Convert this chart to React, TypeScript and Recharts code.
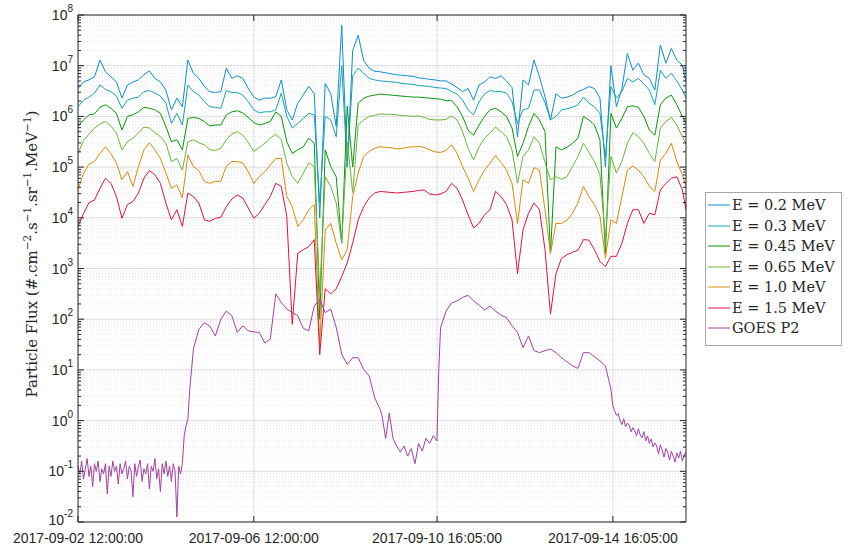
import { LineChart, Line, XAxis, YAxis, CartesianGrid, ReferenceLine, Legend } from "recharts"

// hours since 2017-09-02 12:00
const hours = [
  0, 3, 6, 9, 12, 15, 18, 21, 24, 27, 30, 33, 36, 39, 42, 45, 48, 51, 54, 57,
  60, 63, 66, 69, 72, 75, 78, 81, 84, 87, 90, 93, 96, 99, 102, 105, 108, 111, 114, 117,
  120, 123, 126, 129, 132, 135, 138, 141, 144, 147, 150, 153, 156, 159, 162, 165, 168, 171, 174, 177,
  180, 183, 186, 189, 192, 195, 198, 201, 204, 207, 210, 213, 216, 219, 222, 225, 228, 231, 234, 237,
  240, 243, 246, 249, 252, 255, 258, 261, 264, 267, 270, 273, 276, 279, 282, 285, 288, 291, 294, 297,
  300, 303, 306, 309, 312, 315, 318, 321, 324, 327, 330, 332,
]

const xTickHours = [0, 96, 196.083, 292.083]
const xTickLabels = ["2017-09-02 12:00:00", "2017-09-06 12:00:00", "2017-09-10 16:05:00", "2017-09-14 16:05:00"]

// log10 of the flux
const e02 = [
  6.55, 6.68, 6.72, 6.78, 7.11, 6.88, 6.78, 6.68, 6.36, 6.62, 6.68, 6.72, 6.82, 6.9, 6.75, 6.68, 6.52, 6.13, 6.36, 6.19,
  7.11, 6.85, 6.75, 6.59, 6.49, 6.47, 6.49, 6.95, 6.75,
  6.8, 6.75, 6.55, 6.38, 6.32, 6.36, 6.36, 6.39, 6.72, 6.13, 5.93, 6.26, 6.42, 6.59, 6.45, 4.0, 6.65, 6.45, 5.8, 7.8,
  5.0, 7.3, 7.6, 7.1, 6.95, 6.89, 6.88,
  6.86, 6.84, 6.82, 6.81, 6.8, 6.79, 6.76, 6.75, 6.73, 6.72, 6.7, 6.7, 6.64, 6.57, 6.49, 6.55, 6.32, 6.62, 6.68, 6.78,
  6.75, 6.8, 6.7, 6.57, 5.6, 6.72, 6.62, 7.11,
  6.78, 6.39, 5.93, 6.45, 6.36, 6.38, 6.42, 6.49, 6.53, 6.59, 6.55, 6.36, 5.0, 7.0, 6.19, 6.55, 7.24, 6.91, 7.05, 6.82,
  6.75, 6.52, 7.41, 7.05, 7.34, 7.11, 7.01, 6.68,
]
const e03 = [
  6.19, 6.32, 6.38, 6.46, 6.62, 6.53, 6.49, 6.4, 6.16, 6.32, 6.36, 6.38, 6.49, 6.51, 6.46, 6.4, 6.26, 5.86, 6.06, 5.83,
  6.62, 6.49, 6.42, 6.29, 6.19, 6.18, 6.16, 6.51, 6.47,
  6.47, 6.42, 6.29, 6.13, 6.07, 6.09, 6.09, 6.13, 6.46, 6.0, 5.77, 5.86, 5.96, 6.06, 6.03, 4.3, 6.0, 5.93, 5.6, 7.0,
  5.0, 6.8, 6.95, 6.85, 6.75, 6.72, 6.7,
  6.69, 6.68, 6.67, 6.65, 6.64, 6.63, 6.61, 6.6, 6.59, 6.57, 6.56, 6.55, 6.49, 6.44, 6.32, 6.13, 6.03, 6.29, 6.44, 6.51,
  6.49, 6.49, 6.46, 6.29, 5.86, 6.13, 6.16, 6.52,
  6.52, 6.27, 5.93, 6.0, 6.13, 6.15, 6.18, 6.23, 6.38, 6.26, 6.19, 6.06, 5.2, 6.59, 6.36, 6.49, 6.75, 6.68, 6.75, 6.64,
  6.52, 6.23, 6.91, 6.75, 6.85, 6.7, 6.52, 6.36,
]
const e045 = [
  5.8, 5.93, 6.03, 6.05, 6.18, 6.23, 6.16, 6.06, 5.73, 6.0, 6.03, 6.09, 6.18, 6.16, 6.13, 6.06, 5.8, 5.5, 5.54, 5.34,
  5.96, 5.98, 5.96, 5.9, 5.81, 5.83, 5.83, 6.03, 6.09,
  6.11, 6.07, 5.98, 5.88, 5.83, 5.86, 5.9, 6.09, 6.0, 5.5, 5.27, 5.34, 5.4, 5.57, 5.47, 2.0, 5.34, 5.01, 4.81, 3.5,
  6.2, 5.0, 6.26, 6.36, 6.4, 6.42, 6.44,
  6.43, 6.42, 6.41, 6.4, 6.39, 6.38, 6.38, 6.37, 6.36, 6.35, 6.34, 6.31, 6.31, 6.19, 6.0, 5.73, 5.63, 5.83, 6.0, 6.13,
  6.16, 6.09, 6.0, 5.77, 5.21, 5.47, 5.8, 6.06,
  5.93, 5.7, 3.3, 5.4, 5.34, 5.39, 5.47, 5.57, 6.0, 5.93, 5.83, 5.54, 3.3, 6.06, 5.77, 5.96, 6.19, 6.21, 6.18, 6.0,
  5.73, 5.63, 6.23, 6.36, 6.42, 6.23, 6.0, 5.86,
]
const e065 = [
  5.27, 5.52, 5.65, 5.77, 5.85, 5.9, 5.81, 5.67, 5.34, 5.5, 5.57, 5.67, 5.79, 5.77, 5.68, 5.6, 5.47, 5.11, 5.17, 4.94,
  5.5, 5.54, 5.48, 5.44, 5.34, 5.33, 5.37, 5.54, 5.65,
  5.7, 5.63, 5.48, 5.31, 5.39, 5.47, 5.57, 5.65, 5.54, 5.08, 4.81, 4.68, 4.88, 5.08, 5.01, 2.5, 4.81, 4.62, 4.29, 3.5,
  5.5, 4.5, 5.83, 5.93, 6.0, 6.02, 6.05,
  6.04, 6.04, 6.03, 6.02, 6.01, 6.0, 6.01, 5.98, 5.94, 5.93, 5.93, 5.94, 6.01, 5.93, 5.7, 5.37, 5.14, 5.4, 5.57, 5.67,
  5.79, 5.7, 5.6, 5.34, 4.68, 5.21, 5.34, 5.6,
  5.47, 5.09, 4.75, 4.81, 4.76, 4.81, 5.01, 5.21, 5.47, 5.29, 5.11, 4.85, 3.6, 5.21, 4.88, 5.11, 5.47, 5.68, 5.6, 5.47,
  5.27, 5.11, 5.77, 5.9, 5.98, 5.83, 5.6, 5.47,
]
const e10 = [
  4.55, 4.88, 5.06, 5.11, 5.27, 5.4, 5.26, 5.08, 4.75, 4.91, 4.62, 5.01, 5.34, 5.48, 5.34, 5.17, 4.88, 4.58, 4.65, 4.39,
  5.24, 5.01, 4.93, 4.72, 4.68, 4.72, 4.72, 5.02, 5.11,
  5.11, 5.08, 4.91, 4.68, 4.81, 4.91, 5.04, 5.17, 5.17, 4.42, 4.22, 3.83, 3.96, 4.16, 4.26, 1.5, 3.76, 3.89, 3.5, 3.17,
  3.37, 4.42, 4.88, 5.21, 5.31, 5.37, 5.4,
  5.39, 5.38, 5.36, 5.37, 5.39, 5.4, 5.41, 5.39, 5.34, 5.3, 5.29, 5.33, 5.44, 5.27, 5.01, 4.78, 4.52, 4.75, 4.94, 5.08,
  5.23, 5.09, 4.94, 4.68, 3.89, 4.75, 4.68, 4.99,
  4.94, 4.16, 3.3, 3.89, 3.89, 3.95, 4.09, 4.29, 4.62, 4.42, 4.26, 4.03, 3.2, 3.96, 3.89, 4.42, 4.94, 5.02, 4.94, 4.81,
  4.62, 4.52, 5.14, 5.27, 5.47, 5.11, 4.85, 4.62,
]
const e15 = [
  3.83, 4.08, 4.3, 4.35, 4.58, 4.78, 4.68, 4.42, 3.99, 4.26, 4.32, 4.49, 4.78, 4.93, 4.85, 4.68, 4.29, 3.96, 4.16, 3.83,
  4.49, 4.42, 4.29, 3.96, 3.93, 3.99, 4.01, 4.22, 4.37,
  4.45, 4.39, 4.19, 3.99, 4.09, 4.26, 4.42, 4.68, 4.62, 4.03, 1.9, 3.3, 3.37, 3.43, 3.57, 1.3, 2.6, 2.5, 2.6, 2.84,
  3.11, 3.5, 3.96, 4.22, 4.39, 4.49, 4.52,
  4.51, 4.5, 4.49, 4.5, 4.51, 4.52, 4.54, 4.55, 4.47, 4.45, 4.47, 4.52, 4.68, 4.58, 4.35, 4.06, 3.8, 3.89, 4.06, 4.16,
  4.52, 4.42, 4.26, 3.96, 2.9, 3.76, 4.09, 4.29,
  4.16, 3.37, 2.1, 2.9, 3.2, 3.27, 3.32, 3.36, 3.57, 3.56, 3.37, 3.14, 3.04, 3.24, 3.24, 3.5, 3.89, 4.16, 4.16, 3.89,
  4.09, 4.06, 4.55, 4.68, 4.78, 4.81, 4.55, 4.16,
]

// GOES P2 has its own, finer time grid where the signal is noisy
const goesHours = [
  0, 1, 2, 3, 4, 5, 6, 7, 8, 9, 10, 11, 12, 13, 14, 15, 16, 17, 18, 19,
  20, 21, 22, 23, 24, 25, 26, 27, 28, 29, 30, 31, 32, 33, 34, 35, 36, 37, 38, 39,
  40, 41, 42, 43, 44, 45, 46, 47, 48, 49, 50, 51, 52, 53, 54, 55, 56, 57, 58, 59,
  60, 61, 62, 63, 66, 69, 72, 75, 78, 81, 84, 87, 90, 93, 96, 99, 102, 105, 108, 111,
  114, 117, 120, 123, 126, 129, 132, 135, 138, 141, 144, 147, 150, 153, 156, 159, 162, 165, 166, 168,
  170, 172, 174, 176, 178, 180, 182, 184, 186, 188, 190, 192, 194, 196, 197, 198, 201, 204, 207, 210,
  213, 216, 219, 222, 225, 228, 231, 234, 237, 240, 243, 246, 249, 252, 255, 258, 261, 264, 267, 270,
  273, 276, 279, 282, 285, 288, 291, 292, 293, 294, 295, 296, 297, 298, 299, 300, 301, 302, 303, 304,
  305, 306, 307, 308, 309, 310, 311, 312, 313, 314, 315, 316, 317, 318, 319, 320, 321, 322, 323, 324,
  325, 326, 327, 328, 329, 330, 331, 332,
]
const eGoes = [
  -0.9, -1.05, -0.8, -1.15, -0.95, -0.75, -1.1, -0.9, -1.3, -0.85, -1.0, -0.8, -1.2, -0.95, -1.05, -0.85, -1.45, -0.9, -1.1, -0.8,
  -1.0, -0.9, -1.25, -0.85, -1.05, -0.95, -0.8, -1.15, -0.9, -1.0, -1.5, -0.85, -1.1, -0.9, -0.78, -1.2, -0.95, -1.05, -0.85, -1.35,
  -0.9, -1.0, -0.75, -1.15, -0.95, -1.4, -0.85, -1.05, -0.8, -1.1, -0.9, -1.2, -0.85, -1.0, -1.9, -0.9, -1.05, -0.85, -0.3, -0.1,
  0.03, 0.6, 1.0, 1.41, 1.8, 1.93, 1.86, 1.67, 2.0, 2.16, 2.07, 1.74, 1.87, 1.77, 1.75, 1.74, 1.53, 1.61, 2.5, 2.33,
  2.2, 2.13, 2.07, 1.82, 1.77, 2.26, 2.39, 2.13, 2.2, 1.84, 1.31, 1.11, 1.24, 1.24, 1.01, 0.88, 0.45, 0.22, 0.1, -0.35,
  0.15, -0.35, -0.5, -0.62, -0.5, -0.7, -0.55, -0.85, -0.45, -0.6, -0.35, -0.45, -0.3, -0.4, 1.0, 1.84, 2.16, 2.32, 2.36, 2.43,
  2.47, 2.36, 2.28, 2.18, 2.26, 2.16, 2.08, 2.03, 1.87, 1.74, 1.44, 1.67, 1.38, 1.34, 1.38, 1.41, 1.34, 1.24, 1.16, 1.08,
  1.03, 1.34, 1.34, 1.26, 1.18, 1.08, 0.62, 0.3, 0.2, 0.1, 0.14, 0.0, -0.08, 0.04, -0.12, -0.05, -0.1, -0.22, -0.14, -0.2,
  -0.3, -0.16, -0.28, -0.34, -0.22, -0.4, -0.3, -0.45, -0.36, -0.52, -0.44, -0.5, -0.66, -0.48, -0.58, -0.72, -0.55, -0.62, -0.78, -0.6,
  -0.7, -0.82, -0.64, -0.74, -0.6, -0.8, -0.68, -0.62,
]

const series = [
  { key: "f02", name: "E = 0.2 MeV", color: "#0f8ccf", exps: e02 },
  { key: "f03", name: "E = 0.3 MeV", color: "#17a3b3", exps: e03 },
  { key: "f045", name: "E = 0.45 MeV", color: "#0a960a", exps: e045 },
  { key: "f065", name: "E = 0.65 MeV", color: "#6cb43c", exps: e065 },
  { key: "f10", name: "E = 1.0 MeV", color: "#d68b0c", exps: e10 },
  { key: "f15", name: "E = 1.5 MeV", color: "#e2123f", exps: e15 },
]
const goes = { key: "goes", name: "GOES P2", color: "#a2429e" }
const legendItems = [...series, goes]

const data = hours.map((t, i) => {
  const row: Record<string, number> = { t }
  series.forEach((s) => {
    row[s.key] = 10 ** s.exps[i]
  })
  return row
})
const goesData = goesHours.map((t, i) => ({ t, goes: 10 ** eGoes[i] }))

const decades = [-2, -1, 0, 1, 2, 3, 4, 5, 6, 7, 8]
const majorTicks = decades.map((k) => 10 ** k)
const allTicks: number[] = []
decades.forEach((k) => {
  allTicks.push(10 ** k)
  if (k < 8) {
    for (let m = 2; m <= 9; m++) allTicks.push(Number((m * 10 ** k).toPrecision(3)))
  }
})

const AXIS = "#262626"
const SANS = "'Liberation Sans', Arial, sans-serif"
const SERIF = "'DejaVu Serif', serif"

const isMajor = (v: number) => {
  const e = Math.round(Math.log10(v))
  return Math.abs(v - 10 ** e) < 10 ** e * 1e-6
}

function LeftTick(props: any) {
  const { x, y, payload } = props
  const v = payload.value
  const major = isMajor(v)
  const e = Math.round(Math.log10(v))
  return (
    <g>
      <line x1={x} x2={x + (major ? 6 : 3)} y1={y} y2={y} stroke={AXIS} />
      {major && (
        <text x={x - 5} y={e === -2 ? y + 3 : y + 5} textAnchor="end" fontFamily={SANS} fontSize={14} fill={AXIS}>
          <tspan>10</tspan>
          <tspan dy={-8} fontSize={10}>{e}</tspan>
        </text>
      )}
    </g>
  )
}

function RightTick(props: any) {
  const { x, y, payload } = props
  const major = isMajor(payload.value)
  return <line x1={x} x2={x - (major ? 6 : 3)} y1={y} y2={y} stroke={AXIS} />
}

function BottomTick(props: any) {
  const { x, y, index } = props
  return (
    <g>
      <line x1={x} x2={x} y1={y} y2={y - 6} stroke={AXIS} />
      <text x={x} y={y + 21} textAnchor="middle" fontFamily={SANS} fontSize={14} fill={AXIS}>
        {xTickLabels[index]}
      </text>
    </g>
  )
}

function TopTick(props: any) {
  const { x, y } = props
  return <line x1={x} x2={x} y1={y} y2={y + 6} stroke={AXIS} />
}

function YTitle() {
  return (
    <text
      x={37}
      y={254}
      transform="rotate(-90, 37, 254)"
      textAnchor="middle"
      fontFamily={SERIF}
      fontSize={15}
      fill={AXIS}
    >
      <tspan>Particle Flux (#.cm</tspan>
      <tspan dy={-6} fontSize={10.5}>−2</tspan>
      <tspan dy={6}>.s</tspan>
      <tspan dy={-6} fontSize={10.5}>−1</tspan>
      <tspan dy={6}>.sr</tspan>
      <tspan dy={-6} fontSize={10.5}>−1</tspan>
      <tspan dy={6}>.MeV</tspan>
      <tspan dy={-6} fontSize={10.5}>−1</tspan>
      <tspan dy={6}>)</tspan>
    </text>
  )
}

function LegendBox() {
  return (
    <div
      style={{
        border: "1px solid #a8a8a8",
        background: "#fff",
        padding: "2px 2px 6px 2px",
        fontFamily: SERIF,
        fontSize: 14.5,
        color: AXIS,
        width: 137,
        boxSizing: "border-box",
      }}
    >
      {legendItems.map((s) => (
        <div key={s.key} style={{ display: "flex", alignItems: "center", height: 20.5, whiteSpace: "nowrap" }}>
          <svg width={22} height={4} style={{ marginRight: 2 }}>
            <line x1={0} x2={22} y1={2} y2={2} stroke={s.color} strokeWidth={1} />
          </svg>
          <span>{s.name}</span>
        </div>
      ))}
    </div>
  )
}

export default function App() {
  return (
    <div style={{ position: "absolute", left: 0, top: 0, background: "#fff" }}>
      <LineChart width={845} height={548} data={data} margin={{ top: 14, right: 158, bottom: 0, left: 0 }}>
        <CartesianGrid vertical={false} stroke="#e6e6e6" strokeDasharray="1 2" />
        {majorTicks.map((v) => (
          <ReferenceLine key={"h" + v} y={v} stroke="#dedede" ifOverflow="hidden" />
        ))}
        {xTickHours.map((h) => (
          <ReferenceLine key={"v" + h} x={h} stroke="#dedede" ifOverflow="hidden" />
        ))}
        <XAxis
          dataKey="t"
          type="number"
          domain={[0, 332]}
          ticks={xTickHours}
          interval={0}
          allowDataOverflow
          height={26}
          tickSize={0}
          tickMargin={0}
          tick={<BottomTick />}
          axisLine={{ stroke: AXIS }}
        />
        <XAxis
          xAxisId="top"
          orientation="top"
          dataKey="t"
          type="number"
          domain={[0, 332]}
          ticks={xTickHours}
          interval={0}
          allowDataOverflow
          height={1}
          tickSize={0}
          tickMargin={0}
          tick={<TopTick />}
          axisLine={{ stroke: AXIS }}
        />
        <YAxis
          type="number"
          scale="log"
          domain={[0.01, 1e8]}
          ticks={allTicks}
          interval={0}
          allowDataOverflow
          width={78}
          tickSize={0}
          tickMargin={0}
          tick={<LeftTick />}
          axisLine={{ stroke: AXIS }}
          label={<YTitle />}
        />
        <YAxis
          yAxisId="right"
          orientation="right"
          type="number"
          scale="log"
          domain={[0.01, 1e8]}
          ticks={allTicks}
          interval={0}
          allowDataOverflow
          width={1}
          tickSize={0}
          tickMargin={0}
          tick={<RightTick />}
          axisLine={{ stroke: AXIS }}
        />
        {series.map((s) => (
          <Line
            key={s.key}
            dataKey={s.key}
            name={s.name}
            type="linear"
            stroke={s.color}
            strokeWidth={1}
            dot={false}
            isAnimationActive={false}
          />
        ))}
        <Line
          data={goesData}
          dataKey="goes"
          name={goes.name}
          type="linear"
          stroke={goes.color}
          strokeWidth={1}
          dot={false}
          isAnimationActive={false}
        />
        <Legend
          layout="vertical"
          align="center"
          verticalAlign="middle"
          content={() => <LegendBox />}
          wrapperStyle={{ position: "absolute", left: 705, top: 192, width: 137 }}
        />
      </LineChart>
    </div>
  )
}
